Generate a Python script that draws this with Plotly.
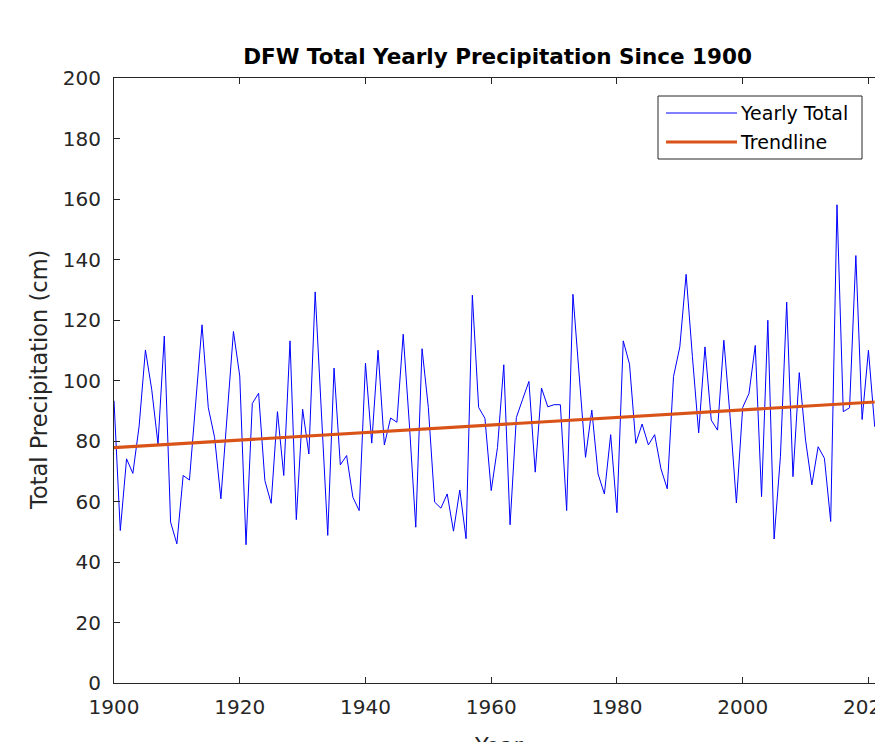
import plotly.graph_objects as go

# ---------------- data ----------------
years = list(range(1900, 2022))
precip_cm = [
    93.3, 50.4, 74.1, 69.3, 85.0, 110.1, 97.0, 79.0, 114.7, 53.2,      # 1900-1909
    46.0, 68.6, 67.1, 93.0, 118.4, 91.0, 81.2, 60.9, 89.0, 116.2,      # 1910-1919
    101.5, 45.7, 92.4, 95.8, 66.9, 59.4, 89.7, 68.6, 113.1, 54.0,      # 1920-1929
    90.5, 75.7, 129.3, 89.0, 48.8, 104.1, 72.1, 75.2, 61.4, 57.0,      # 1930-1939
    105.7, 79.3, 110.0, 78.7, 87.6, 86.2, 115.3, 85.0, 51.5, 110.5,    # 1940-1949
    91.1, 59.8, 57.8, 62.5, 50.2, 63.8, 47.7, 128.2, 91.1, 87.5,       # 1950-1959
    63.6, 77.9, 105.2, 52.3, 87.8, 93.8, 99.7, 69.7, 97.5, 91.3,       # 1960-1969
    92.0, 92.0, 57.0, 128.5, 100.0, 74.6, 90.2, 69.1, 62.5, 82.1,      # 1970-1979
    56.3, 113.1, 105.4, 79.2, 85.6, 78.7, 82.1, 70.8, 64.2, 101.3,     # 1980-1989
    111.1, 135.1, 108.0, 82.7, 111.1, 86.9, 83.6, 113.3, 88.0, 59.5,   # 1990-1999
    91.1, 95.7, 111.6, 61.6, 119.9, 47.6, 74.8, 125.9, 68.2, 102.6,    # 2000-2009
    80.3, 65.5, 78.1, 74.3, 53.4, 158.1, 89.7, 91.0, 141.3, 87.1,      # 2010-2019
    110.0, 84.7,                                                       # 2020-2021
]
trend_years = [1900, 2021]
trend_cm = [77.8, 92.9]

x_ticks = [1900, 1920, 1940, 1960, 1980, 2000, 2020]
y_ticks = [0, 20, 40, 60, 80, 100, 120, 140, 160, 180, 200]

title_text = "DFW Total Yearly Precipitation Since 1900"
x_label = "Year"
y_label = "Total Precipitation (cm)"
legend_labels = ["Yearly Total", "Trendline"]

# ---------------- styling ----------------
OFF = 8                                  # default page body margin
WIN_W, WIN_H = 883, 742
W, H = WIN_W - OFF, WIN_H - OFF          # figure size that fits the window
# plot area in window pixels
WL, WR, WT, WB = 114, 881, 78, 683
L, R, T, B = WL - OFF, WR - OFF, WT - OFF, WB - OFF
FONT = "DejaVu Sans, Verdana, sans-serif"
AX = "#262626"
BLUE = "#0000FF"
ORANGE = "#D95319"


def px_x(wx):
    return (wx - OFF - L) / (R - L)


def px_y(wy):
    return (B - (wy - OFF)) / (B - T)


fig = go.Figure()
fig.add_trace(go.Scatter(x=years, y=precip_cm, mode="lines",
                         line=dict(color=BLUE, width=1), name=legend_labels[0],
                         showlegend=False))
fig.add_trace(go.Scatter(x=trend_years, y=trend_cm, mode="lines",
                         line=dict(color=ORANGE, width=3.2), name=legend_labels[1],
                         showlegend=False))

axis_common = dict(showline=True, mirror="ticks", linecolor=AX, linewidth=1,
                   ticks="inside", ticklen=6, tickcolor=AX, tickwidth=1,
                   showgrid=False, zeroline=False, ticklabeloverflow="allow",
                   tickfont=dict(family=FONT, size=20, color=AX))

fig.update_xaxes(range=[1900, 2022], tickmode="array", tickvals=x_ticks,
                 ticklabelstandoff=6, **axis_common)
fig.update_yaxes(range=[0, 200], tickmode="array", tickvals=y_ticks,
                 ticklabelstandoff=8, **axis_common)

shapes = []
annotations = []
# legend box
shapes.append(dict(type="rect", xref="paper", yref="paper",
                   x0=px_x(658), x1=px_x(862), y0=px_y(159), y1=px_y(96),
                   line=dict(color=AX, width=1), fillcolor="white", layer="above"))
shapes.append(dict(type="line", xref="paper", yref="paper",
                   x0=px_x(666), x1=px_x(737), y0=px_y(113), y1=px_y(113),
                   line=dict(color=BLUE, width=1), layer="above"))
shapes.append(dict(type="line", xref="paper", yref="paper",
                   x0=px_x(666), x1=px_x(737), y0=px_y(142), y1=px_y(142),
                   line=dict(color=ORANGE, width=3.2), layer="above"))
for lbl, wy in zip(legend_labels, [113, 142]):
    annotations.append(dict(text=lbl, xref="paper", yref="paper",
                            x=px_x(738), y=px_y(wy), xanchor="left", yanchor="middle",
                            showarrow=False,
                            font=dict(family=FONT, size=19, color="black")))
# y axis label
annotations.append(dict(text=y_label, xref="paper", yref="paper",
                        x=px_x(39), y=px_y(380), xanchor="center", yanchor="middle",
                        textangle=-90, showarrow=False,
                        font=dict(family=FONT, size=22.5, color=AX)))
# x axis label (cut off at the bottom as in the reference)
annotations.append(dict(text=x_label, xref="paper", yref="paper",
                        x=px_x(498), y=px_y(731), xanchor="center", yanchor="top",
                        showarrow=False,
                        font=dict(family=FONT, size=22.5, color=AX)))

fig.update_layout(
    width=W, height=H,
    margin=dict(l=L, r=W - R, t=T, b=H - B, autoexpand=False),
    paper_bgcolor="white", plot_bgcolor="white",
    title=dict(text="<b>" + title_text + "</b>",
               x=(L + R) / 2 / W, xanchor="center",
               y=1 - (56 - OFF) / H, yanchor="middle", yref="container",
               font=dict(family=FONT, size=21.5, color="black")),
    shapes=shapes, annotations=annotations,
    showlegend=False,
)

fig.write_html("out.html")
